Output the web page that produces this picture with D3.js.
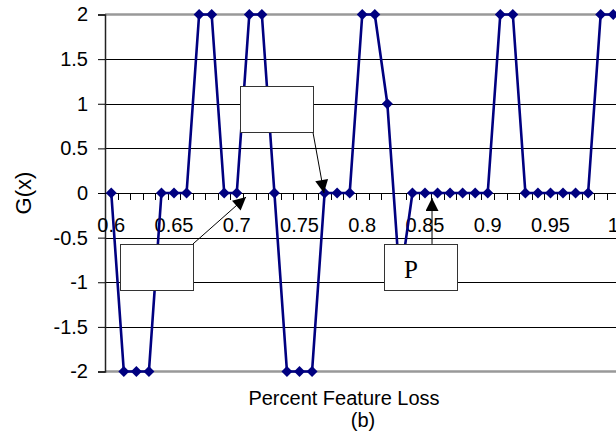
<!DOCTYPE html>
<html>
<head>
<meta charset="utf-8">
<script src="https://cdn.jsdelivr.net/npm/d3@7"></script>
<style>
  html, body { margin: 0; padding: 0; background: #fff; }
  svg { display: block; }
</style>
</head>
<body>
<svg id="chart" width="616" height="440"></svg>
<script>
// ---- data ----
const categories = [0.60,0.61,0.62,0.63,0.64,0.65,0.66,0.67,0.68,0.69,
                    0.70,0.71,0.72,0.73,0.74,0.75,0.76,0.77,0.78,0.79,
                    0.80,0.81,0.82,0.83,0.84,0.85,0.86,0.87,0.88,0.89,
                    0.90,0.91,0.92,0.93,0.94,0.95,0.96,0.97,0.98,0.99,1.00];
const gValues = [0,-2,-2,-2,0,0,0,2,2,0,
                 0,2,2,0,-2,-2,-2,0,0,0,
                 2,2,1,-1,0,0,0,0,0,0,
                 0,2,2,0,0,0,0,0,0,2,2];
const xTickLabels = ["0.6","0.65","0.7","0.75","0.8","0.85","0.9","0.95","1"];
const yTicks = [-2,-1.5,-1,-0.5,0,0.5,1,1.5,2];
const yTickLabels = ["-2","-1.5","-1","-0.5","0","0.5","1","1.5","2"];
const xTitle = "Percent Feature Loss";
const subTitle = "(b)";
const yTitle = "G(x)";
// annotation boxes (data units) and arrows
const annoBoxes = [
  {x0:0.7025, x1:0.7607, y0:1.20,  y1:0.683,  text:""},
  {x0:0.6070, x1:0.6651, y0:-0.571, y1:-1.087, text:""},
  {x0:0.8173, x1:0.8755, y0:-0.571, y1:-1.087, text:"P"}
];
const annoArrows = [
  {from:[0.7607, 0.683], to:[0.7695, 0.0]},
  {from:[0.6651,-0.571], to:[0.7074,-0.045]},
  {from:[0.8556,-0.571], to:[0.8556,-0.056]}
];

(function () {
// ---- layout ----
const svg = d3.select("#chart");
const pLeft = 105, pRight = 619.5, pTop = 14.5, pBottom = 371.5;
const sansFont = "'Liberation Sans', Arial, sans-serif";

const xBand = d3.scaleBand().domain(categories).range([pLeft, pRight]).padding(0);
const step = xBand.step();
const xc = c => xBand(c) + step / 2;
const xLin = d3.scaleLinear()
  .domain([categories[0] - 0.005, categories[categories.length-1] + 0.005])
  .range([pLeft, pRight]);
const y = d3.scaleLinear().domain([-2, 2]).range([pBottom, pTop]);

// grid lines
svg.append("g").selectAll("line")
  .data(yTicks.filter(v => v !== 0 && Math.abs(v) !== 2))
  .join("line")
  .attr("x1", pLeft).attr("x2", 616)
  .attr("y1", d => Math.round(y(d)) + 0.5).attr("y2", d => Math.round(y(d)) + 0.5)
  .attr("stroke", "#000").attr("stroke-width", 1);

// top & bottom plot-area border (gray)
svg.append("g").selectAll("line")
  .data([2, -2])
  .join("line")
  .attr("x1", pLeft).attr("x2", 616)
  .attr("y1", d => y(d)).attr("y2", d => y(d))
  .attr("stroke", "#999").attr("stroke-width", 2.5);

// y axis
const yAxis = d3.axisLeft(y).tickValues(yTicks)
  .tickFormat((d, i) => yTickLabels[i]).tickSize(7).tickPadding(10);
const gy = svg.append("g").attr("transform", `translate(${pLeft},0)`).call(yAxis);
gy.select(".domain").attr("stroke", "#222").attr("stroke-width", 1.5);
gy.selectAll(".tick line").attr("stroke", "#000");
gy.selectAll("text").attr("font-family", sansFont).attr("font-size", 20).attr("fill", "#000");

// x axis at y = 0, ticks between categories
const gx = svg.append("g");
gx.append("line").attr("x1", pLeft).attr("x2", 616)
  .attr("y1", y(0) + 0.5).attr("y2", y(0) + 0.5)
  .attr("stroke", "#000").attr("stroke-width", 1);
gx.selectAll("line.tk")
  .data(categories)
  .join("line").attr("class", "tk")
  .attr("x1", d => Math.round(xBand(d) + step) + 0.5)
  .attr("x2", d => Math.round(xBand(d) + step) + 0.5)
  .attr("y1", y(0)).attr("y2", y(0) + 7)
  .attr("stroke", "#000").attr("stroke-width", 1);
const labelCats = categories.filter((c, i) => i % 5 === 0);
gx.selectAll("text")
  .data(labelCats)
  .join("text")
  .attr("x", d => xc(d)).attr("y", y(0) + 39)
  .attr("text-anchor", "middle")
  .attr("font-family", sansFont).attr("font-size", 20).attr("fill", "#000")
  .text((d, i) => xTickLabels[i]);

// series line
const lineGen = d3.line().x((d, i) => xc(categories[i])).y(d => y(d));
svg.append("path").datum(gValues)
  .attr("d", lineGen)
  .attr("fill", "none").attr("stroke", "#000080").attr("stroke-width", 2.6)
  .attr("stroke-linejoin", "round");

// markers
svg.append("g").selectAll("path")
  .data(gValues)
  .join("path")
  .attr("transform", (d, i) => `translate(${xc(categories[i])},${y(d)})`)
  .attr("d", "M0,-5.5L5.5,0L0,5.5L-5.5,0Z")
  .attr("fill", "#000080");

// arrows
const defs = svg.append("defs");
defs.append("marker").attr("id", "ah")
  .attr("viewBox", "0 0 10 10").attr("refX", 10).attr("refY", 5)
  .attr("markerWidth", 15).attr("markerHeight", 13)
  .attr("markerUnits", "userSpaceOnUse")
  .attr("orient", "auto")
  .append("path").attr("d", "M0,0L10,5L0,10Z").attr("fill", "#000");
svg.append("g").selectAll("line")
  .data(annoArrows)
  .join("line")
  .attr("x1", d => xLin(d.from[0])).attr("y1", d => y(d.from[1]))
  .attr("x2", d => xLin(d.to[0])).attr("y2", d => y(d.to[1]))
  .attr("stroke", "#000").attr("stroke-width", 1)
  .attr("marker-end", "url(#ah)");

// boxes
const gb = svg.append("g");
gb.selectAll("rect")
  .data(annoBoxes)
  .join("rect")
  .attr("x", d => Math.round(xLin(d.x0)) + 0.5)
  .attr("y", d => Math.round(y(d.y0)) + 0.5)
  .attr("width", d => Math.round(xLin(d.x1) - xLin(d.x0)))
  .attr("height", d => Math.round(y(d.y1) - y(d.y0)))
  .attr("fill", "#fff").attr("stroke", "#333").attr("stroke-width", 1);
gb.selectAll("text")
  .data(annoBoxes.filter(d => d.text))
  .join("text")
  .attr("x", d => xLin(d.x0) + 20)
  .attr("y", d => y(d.y0) + 34)
  .attr("font-family", "'Liberation Serif', 'Times New Roman', serif")
  .attr("font-size", 25).attr("fill", "#000")
  .text(d => d.text);

// titles
svg.append("text")
  .attr("x", 344).attr("y", 405)
  .attr("text-anchor", "middle")
  .attr("font-family", sansFont).attr("font-size", 20).attr("fill", "#000")
  .text(xTitle);
svg.append("text")
  .attr("x", 363).attr("y", 427)
  .attr("text-anchor", "middle")
  .attr("font-family", sansFont).attr("font-size", 20).attr("fill", "#000")
  .text(subTitle);
svg.append("text")
  .attr("transform", "translate(31,193) rotate(-90)")
  .attr("text-anchor", "middle")
  .attr("font-family", sansFont).attr("font-size", 22).attr("fill", "#000")
  .text(yTitle);
})();
</script>
</body>
</html>
